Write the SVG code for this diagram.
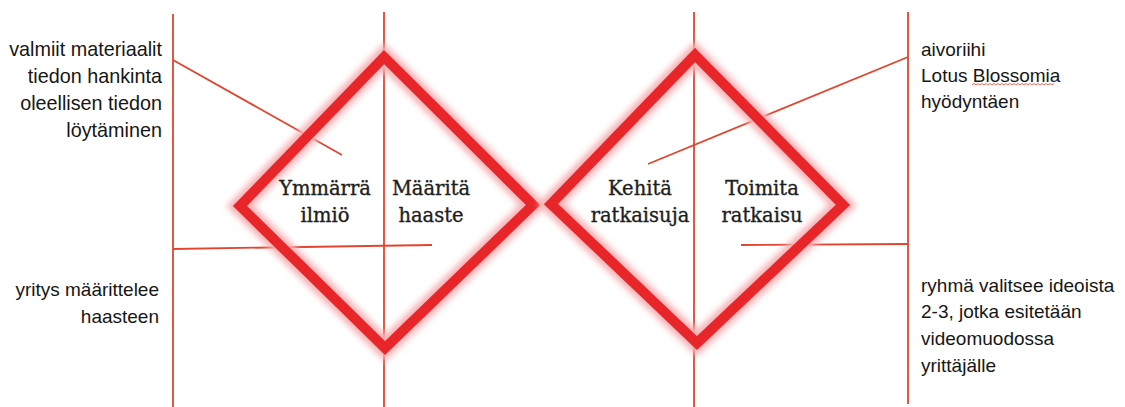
<svg xmlns="http://www.w3.org/2000/svg" width="1125" height="407" viewBox="0 0 1125 407">
<style>
.thin{stroke:#e2452f;stroke-width:1.8;fill:none}
.dia{fill:none;stroke:#e8262a;stroke-width:10;stroke-linejoin:miter}
.glow{fill:none;stroke:#f7b0b4;stroke-width:19;stroke-linejoin:miter;filter:url(#blur)}
.lbl{font-family:"DejaVu Serif",serif;font-size:19.5px;fill:#1e1e1e;stroke:#1e1e1e;stroke-width:0.35;text-anchor:middle}
.side{font-family:"Liberation Sans",Arial,sans-serif;font-size:19px;fill:#161616}
.r{text-anchor:end}
.big{font-size:19.8px}
</style>
<defs>
<filter id="blur" x="-10%" y="-10%" width="120%" height="120%"><feGaussianBlur stdDeviation="3"/></filter>
</defs>
<rect width="1125" height="407" fill="#fff"/>
<g id="connectors">
<line class="thin" x1="173" y1="14" x2="173" y2="407"/>
<line class="thin" x1="384" y1="12" x2="384" y2="407"/>
<line class="thin" x1="694" y1="12" x2="694" y2="407"/>
<line class="thin" x1="908" y1="12" x2="908" y2="404"/>
<line class="thin" x1="173" y1="60" x2="342" y2="155"/>
<line class="thin" x1="173" y1="249" x2="432" y2="245"/>
<line class="thin" x1="908" y1="57" x2="648" y2="164"/>
<line class="thin" x1="908" y1="244" x2="741" y2="245"/>
</g>
<g id="diamond-left">
<polygon class="glow" points="384,57 533,205 385,348 240,206"/>
<polygon class="dia" points="384,57 533,205 385,348 240,206"/>
</g>
<g id="diamond-right">
<polygon class="glow" points="695,55 843,205 697,343 551,204"/>
<polygon class="dia" points="695,55 843,205 697,343 551,204"/>
</g>
<g id="ymmarra">
<text class="lbl" x="325" y="195">Ymmärrä</text>
<text class="lbl" x="325" y="222">ilmiö</text>
</g>
<g id="maarita">
<text class="lbl" x="431" y="195">Määritä</text>
<text class="lbl" x="431" y="222">haaste</text>
</g>
<g id="kehita">
<text class="lbl" x="640" y="195">Kehitä</text>
<text class="lbl" x="640" y="222">ratkaisuja</text>
</g>
<g id="toimita">
<text class="lbl" x="762" y="195">Toimita</text>
<text class="lbl" x="762" y="222">ratkaisu</text>
</g>
<g id="note-top-left">
<text class="side big r" x="162" y="56">valmiit materiaalit</text>
<text class="side big r" x="162" y="83">tiedon hankinta</text>
<text class="side big r" x="162" y="110">oleellisen tiedon</text>
<text class="side big r" x="162" y="137">löytäminen</text>
</g>
<g id="note-bottom-left">
<text class="side r" x="159" y="296">yritys määrittelee</text>
<text class="side r" x="159" y="323">haasteen</text>
</g>
<g id="note-top-right">
<text class="side" x="921" y="56">aivoriihi</text>
<text class="side" x="921" y="82">Lotus Blossomia</text>
<text class="side" x="921" y="108">hyödyntäen</text>
<path d="M972,85 l2,-1.5 l2,1.5 l2,-1.5 l2,1.5 l2,-1.5 l2,1.5 l2,-1.5 l2,1.5 l2,-1.5 l2,1.5 l2,-1.5 l2,1.5 l2,-1.5 l2,1.5 l2,-1.5 l2,1.5 l2,-1.5 l2,1.5 l2,-1.5 l2,1.5 l2,-1.5 l2,1.5 l2,-1.5 l2,1.5 l2,-1.5 l2,1.5 l2,-1.5 l2,1.5 l2,-1.5 l2,1.5 l2,-1.5 l2,1.5 l2,-1.5 l2,1.5 l2,-1.5 l2,1.5 l2,-1.5 l2,1.5 l2,-1.5 l2,1.5 l2,-1.5" fill="none" stroke="#e0584a" stroke-width="0.9"/>
</g>
<g id="note-bottom-right">
<text class="side" x="921" y="292">ryhmä valitsee ideoista</text>
<text class="side" x="921" y="318">2-3, jotka esitetään</text>
<text class="side" x="921" y="345">videomuodossa</text>
<text class="side" x="921" y="372">yrittäjälle</text>
</g>
</svg>
